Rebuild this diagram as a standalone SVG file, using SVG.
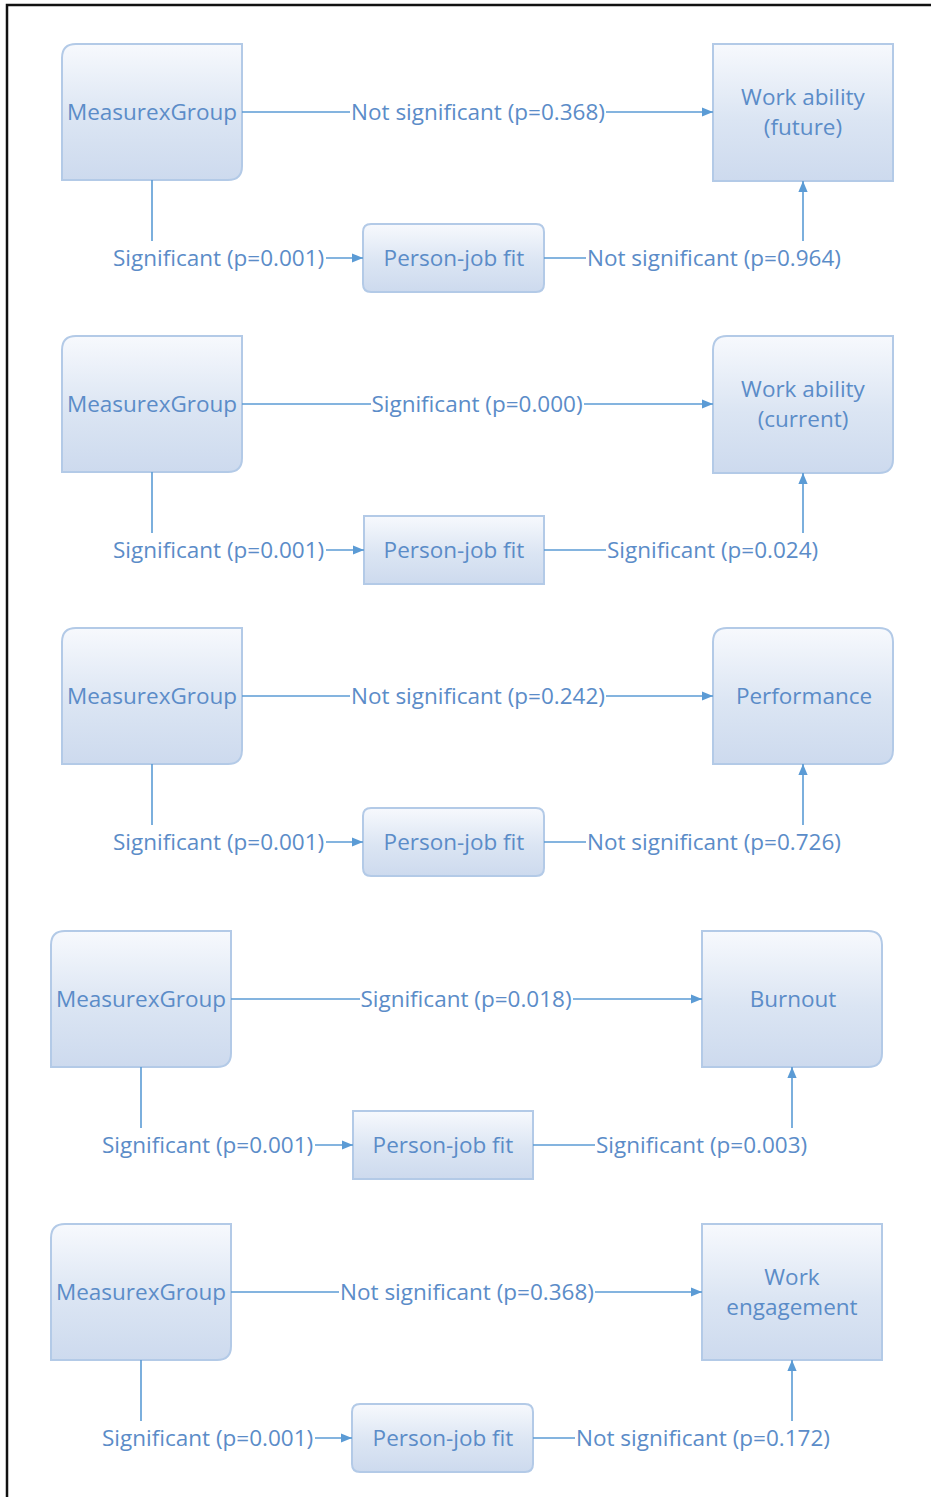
<svg xmlns="http://www.w3.org/2000/svg" width="931" height="1497" viewBox="0 0 931 1497">
  <defs>
    <linearGradient id="boxFill" x1="0" y1="0" x2="0" y2="1">
      <stop offset="0" stop-color="#f7f9fd"/>
      <stop offset="0.55" stop-color="#dbe5f3"/>
      <stop offset="1" stop-color="#cddaee"/>
    </linearGradient>
    <marker id="arrow" viewBox="0 0 10 10" refX="10" refY="5" markerWidth="11" markerHeight="11" markerUnits="userSpaceOnUse" orient="auto">
      <path d="M0,0.8 L10,5 L0,9.2 Z" fill="#5b9bd5"/>
    </marker>
    <style>
      .box { fill: url(#boxFill); stroke: #b3cae7; stroke-width: 2; }
      .lbl { font-family: "Open Sans", "Liberation Sans", sans-serif; font-size: 22.5px; fill: #5b8cc8; }
      .mid { text-anchor: middle; }
      .wire { stroke: #5b9bd5; stroke-width: 1.6; fill: none; }
      .arr { marker-end: url(#arrow); }
    </style>
  </defs>

  <rect x="0" y="0" width="931" height="1497" fill="#ffffff"/>
  <!-- page frame -->
  <path d="M7,1497 V5 H931" fill="none" stroke="#111111" stroke-width="2.5"/>

  <!-- Panel 1: Work ability (future) -->
  <g id="panel-1">
    <g id="p1-measure">
      <path class="box" d="M76,44 H242 V166 Q242,180 228,180 H62 V58 Q62,44 76,44 Z"/>
      <text class="lbl mid" x="152" y="119.5">MeasurexGroup</text>
    </g>
    <g id="p1-pjf">
      <path class="box" d="M371,224 H536 Q544,224 544,232 V284 Q544,292 536,292 H371 Q363,292 363,284 V232 Q363,224 371,224 Z"/>
      <text class="lbl mid" x="454" y="265.5">Person-job fit</text>
    </g>
    <g id="p1-outcome">
      <path class="box" d="M713,44 H893 V181 H713 Z"/>
      <text class="lbl mid" x="803" y="104.5">Work ability</text>
      <text class="lbl mid" x="803" y="134.5">(future)</text>
    </g>
    <g id="p1-connectors">
      <path class="wire" d="M242,112 H350"/>
      <path class="wire arr" d="M606,112 H713"/>
      <text class="lbl mid" x="478" y="119.5">Not significant (p=0.368)</text>
      <path class="wire" d="M152,180 V241"/>
      <text class="lbl" x="113" y="265.5">Significant (p=0.001)</text>
      <path class="wire arr" d="M326,258 H363"/>
      <path class="wire" d="M544,258 H586"/>
      <text class="lbl" x="587" y="265.5">Not significant (p=0.964)</text>
      <path class="wire arr" d="M803,241 V181"/>
    </g>
  </g>

  <!-- Panel 2: Work ability (current) -->
  <g id="panel-2" transform="translate(0,292)">
    <g id="p2-measure">
      <path class="box" d="M76,44 H242 V166 Q242,180 228,180 H62 V58 Q62,44 76,44 Z"/>
      <text class="lbl mid" x="152" y="119.5">MeasurexGroup</text>
    </g>
    <g id="p2-pjf">
      <path class="box" d="M364,224 H544 V292 H364 Z"/>
      <text class="lbl mid" x="454" y="265.5">Person-job fit</text>
    </g>
    <g id="p2-outcome">
      <path class="box" d="M727,44 H893 V167 Q893,181 879,181 H713 V58 Q713,44 727,44 Z"/>
      <text class="lbl mid" x="803" y="104.5">Work ability</text>
      <text class="lbl mid" x="803" y="134.5">(current)</text>
    </g>
    <g id="p2-connectors">
      <path class="wire" d="M242,112 H371"/>
      <path class="wire arr" d="M584,112 H713"/>
      <text class="lbl mid" x="477" y="119.5">Significant (p=0.000)</text>
      <path class="wire" d="M152,180 V241"/>
      <text class="lbl" x="113" y="265.5">Significant (p=0.001)</text>
      <path class="wire arr" d="M326,258 H364"/>
      <path class="wire" d="M544,258 H606"/>
      <text class="lbl" x="607" y="265.5">Significant (p=0.024)</text>
      <path class="wire arr" d="M803,241 V181"/>
    </g>
  </g>

  <!-- Panel 3: Performance -->
  <g id="panel-3" transform="translate(0,584)">
    <g id="p3-measure">
      <path class="box" d="M76,44 H242 V166 Q242,180 228,180 H62 V58 Q62,44 76,44 Z"/>
      <text class="lbl mid" x="152" y="119.5">MeasurexGroup</text>
    </g>
    <g id="p3-pjf">
      <path class="box" d="M371,224 H536 Q544,224 544,232 V284 Q544,292 536,292 H371 Q363,292 363,284 V232 Q363,224 371,224 Z"/>
      <text class="lbl mid" x="454" y="265.5">Person-job fit</text>
    </g>
    <g id="p3-outcome">
      <path class="box" d="M727,44 H879 Q893,44 893,58 V166 Q893,180 879,180 H713 V58 Q713,44 727,44 Z"/>
      <text class="lbl mid" x="804" y="119.5">Performance</text>
    </g>
    <g id="p3-connectors">
      <path class="wire" d="M242,112 H350"/>
      <path class="wire arr" d="M606,112 H713"/>
      <text class="lbl mid" x="478" y="119.5">Not significant (p=0.242)</text>
      <path class="wire" d="M152,180 V241"/>
      <text class="lbl" x="113" y="265.5">Significant (p=0.001)</text>
      <path class="wire arr" d="M326,258 H363"/>
      <path class="wire" d="M544,258 H586"/>
      <text class="lbl" x="587" y="265.5">Not significant (p=0.726)</text>
      <path class="wire arr" d="M803,241 V180"/>
    </g>
  </g>

  <!-- Panel 4: Burnout -->
  <g id="panel-4" transform="translate(-11,887)">
    <g id="p4-measure">
      <path class="box" d="M76,44 H242 V166 Q242,180 228,180 H62 V58 Q62,44 76,44 Z"/>
      <text class="lbl mid" x="152" y="119.5">MeasurexGroup</text>
    </g>
    <g id="p4-pjf">
      <path class="box" d="M364,224 H544 V292 H364 Z"/>
      <text class="lbl mid" x="454" y="265.5">Person-job fit</text>
    </g>
    <g id="p4-outcome">
      <path class="box" d="M713,44 H879 Q893,44 893,58 V166 Q893,180 879,180 H713 Z"/>
      <text class="lbl mid" x="804" y="119.5">Burnout</text>
    </g>
    <g id="p4-connectors">
      <path class="wire" d="M242,112 H371"/>
      <path class="wire arr" d="M584,112 H713"/>
      <text class="lbl mid" x="477" y="119.5">Significant (p=0.018)</text>
      <path class="wire" d="M152,180 V241"/>
      <text class="lbl" x="113" y="265.5">Significant (p=0.001)</text>
      <path class="wire arr" d="M326,258 H364"/>
      <path class="wire" d="M544,258 H606"/>
      <text class="lbl" x="607" y="265.5">Significant (p=0.003)</text>
      <path class="wire arr" d="M803,241 V180"/>
    </g>
  </g>

  <!-- Panel 5: Work engagement -->
  <g id="panel-5" transform="translate(-11,1180)">
    <g id="p5-measure">
      <path class="box" d="M76,44 H242 V166 Q242,180 228,180 H62 V58 Q62,44 76,44 Z"/>
      <text class="lbl mid" x="152" y="119.5">MeasurexGroup</text>
    </g>
    <g id="p5-pjf">
      <path class="box" d="M371,224 H536 Q544,224 544,232 V284 Q544,292 536,292 H371 Q363,292 363,284 V232 Q363,224 371,224 Z"/>
      <text class="lbl mid" x="454" y="265.5">Person-job fit</text>
    </g>
    <g id="p5-outcome">
      <path class="box" d="M713,44 H893 V180 H713 Z"/>
      <text class="lbl mid" x="803" y="104.5">Work</text>
      <text class="lbl mid" x="803" y="134.5">engagement</text>
    </g>
    <g id="p5-connectors">
      <path class="wire" d="M242,112 H350"/>
      <path class="wire arr" d="M606,112 H713"/>
      <text class="lbl mid" x="478" y="119.5">Not significant (p=0.368)</text>
      <path class="wire" d="M152,180 V241"/>
      <text class="lbl" x="113" y="265.5">Significant (p=0.001)</text>
      <path class="wire arr" d="M326,258 H363"/>
      <path class="wire" d="M544,258 H586"/>
      <text class="lbl" x="587" y="265.5">Not significant (p=0.172)</text>
      <path class="wire arr" d="M803,241 V180"/>
    </g>
  </g>
</svg>
